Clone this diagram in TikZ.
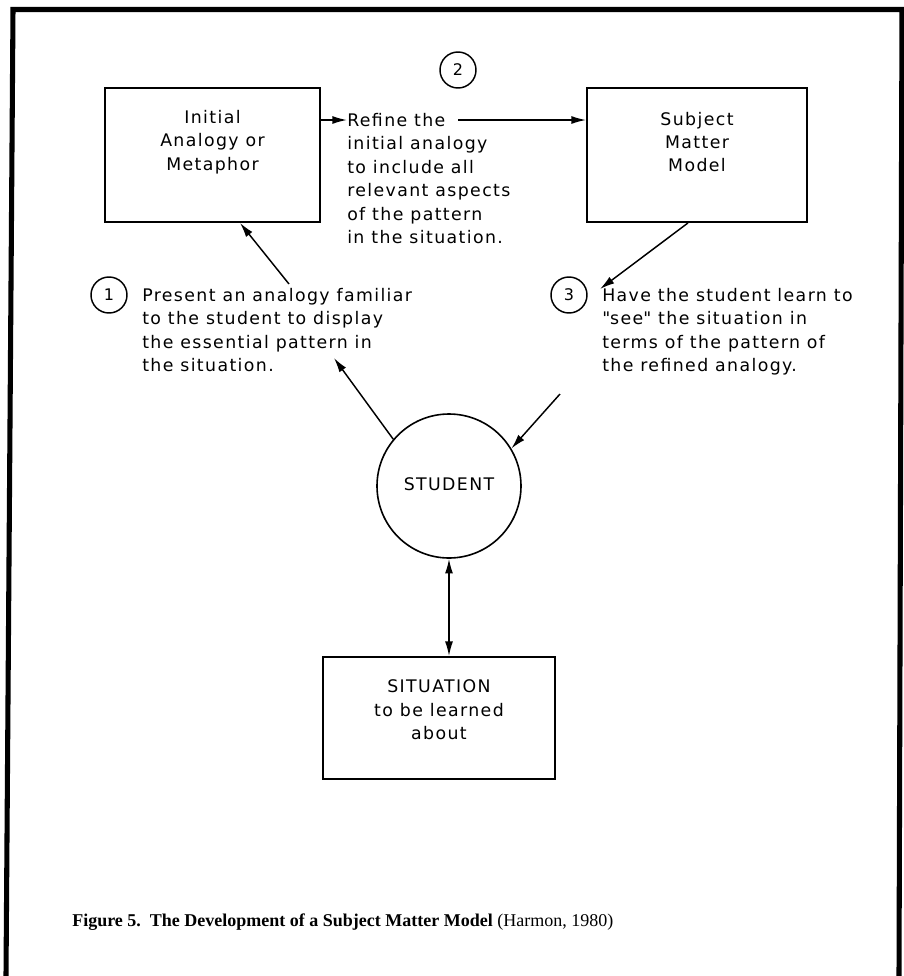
\documentclass[tikz,border=0pt]{standalone}
\usepackage{fontspec}
\setmainfont{DejaVu Sans}[LetterSpace=8]
\newfontfamily\qfont{DejaVu Sans}[LetterSpace=8,Ligatures=ResetAll]
\newfontfamily\capserif{Liberation Serif}
\usetikzlibrary{arrows.meta}
\newcommand{\sq}{{\qfont\symbol{34}}}
\begin{document}
\begin{tikzpicture}[x=0.75pt,y=-0.75pt,
  body/.style={font=\fontsize{13}{17.6}\selectfont},
  box/.style={draw,line width=1.4pt,inner sep=0pt},
  num/.style={draw,circle,line width=1.1pt,minimum size=27pt,inner sep=0pt,font=\fontsize{12}{14}\selectfont},
  txt/.style={body,align=left,anchor=north west,inner sep=0pt},
  ctr/.style={body,align=center,inner sep=0pt},
  arr/.style={line width=1.1pt,-{Latex[length=11pt,width=6pt]}},
  darr/.style={line width=1.1pt,{Latex[length=11pt,width=6pt]}-{Latex[length=11pt,width=6pt]}},
  ]
\useasboundingbox (0,0) rectangle (904,976);
% page frame, open at the bottom
\draw[line width=3.8pt] (6,976) -- (13,9.5) -- (902,9.5) -- (899,976);

% step markers
\node[num] (n2) at (458,70) {2};
\node[num] (n1) at (109,295) {1};
\node[num] (n3) at (569,295) {3};

% boxes
\node[box,minimum width=161pt,minimum height=100.5pt] (init) at (212.5,155) {};
\node[ctr] (initT) at (212.5,142) {Initial\\Analogy or\\Metaphor};
\node[box,minimum width=165pt,minimum height=100.5pt] (sub) at (697,155) {};
\node[ctr] (subT) at (697,142) {Subject\\Matter\\Model};
\node[box,minimum width=174pt,minimum height=91.5pt] (sit) at (439,718) {};
\node[ctr] (sitT) at (439,710) {SITUATION\\to be learned\\about};

% student
\node[draw,circle,line width=1.2pt,minimum size=108pt,inner sep=0pt] (stu) at (449,486) {};
\node[body] (stuT) at (449,484) {STUDENT};

% step texts
\node[txt] (refine) at (347,113) {Refine the\\initial analogy\\to include all\\relevant aspects\\of the pattern\\in the situation.};
\node[txt] (t1) at (142,288) {Present an analogy familiar\\to the student to display\\the essential pattern in\\the situation.};
\node[txt] (t3) at (602,288) {Have the student learn to\\\sq see\sq{} the situation in\\terms of the pattern of\\the refined analogy.};

% connector end points
\coordinate (rB) at (347,120);
\coordinate (rC) at (458,120);
\coordinate (aE) at (600,289);
\coordinate (bS) at (289,284);
\coordinate (cE) at (334,358);
\coordinate (dS) at (560,394);

\draw[arr] (init.east |- rB) -- (rB);
\draw[arr] (rC) -- (sub.west |- rC);
\draw[arr] (sub.south -| 688,0) -- (aE);
\draw[arr] (bS) -- (init.south -| 240,0);
\draw[arr] (stu.140) -- (cE);
\draw[arr] (dS) -- (stu.31);
\draw[darr] (stu.south) -- (stu.south |- sit.north);

% caption
\node[anchor=base west,inner sep=0pt,font=\capserif\fontsize{13.5}{16}\selectfont] (cap) at (72,926)
  {\textbf{Figure 5.\ \ The Development of a Subject Matter Model} (Harmon, 1980)};
\end{tikzpicture}
\end{document}
